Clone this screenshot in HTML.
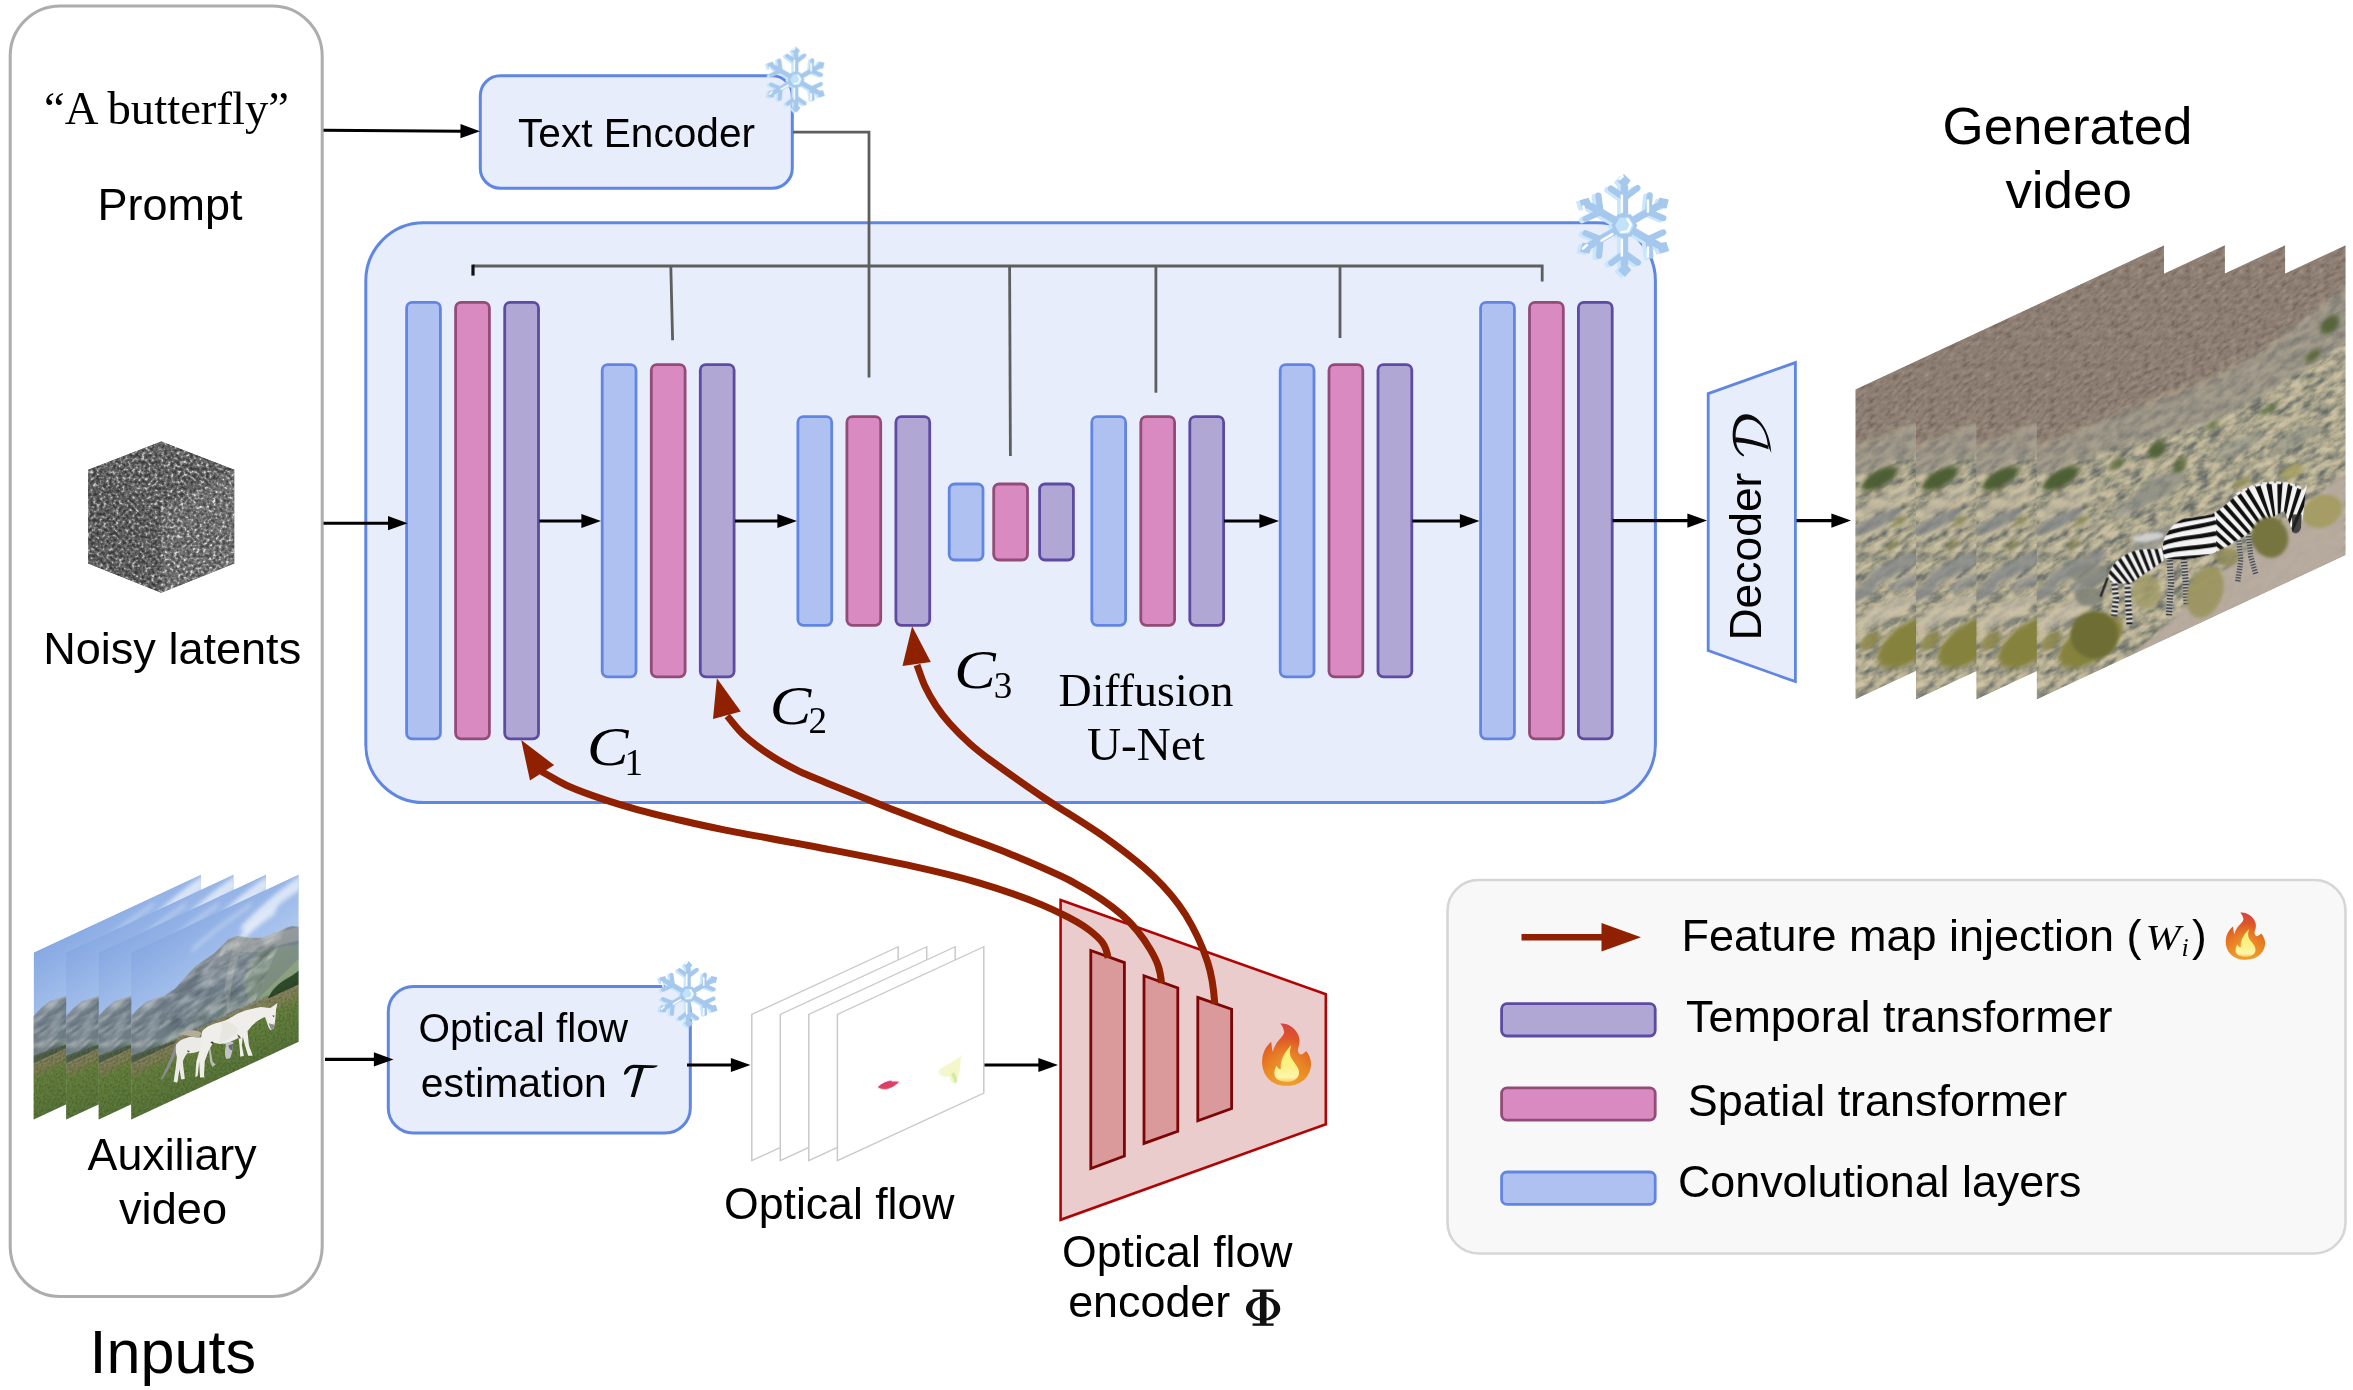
<!DOCTYPE html>
<html><head><meta charset="utf-8"><title>Diagram</title>
<style>html,body{margin:0;padding:0;background:#fff;}svg{display:block}text{fill:#000}</style>
</head><body>
<svg width="2353" height="1390" viewBox="0 0 2353 1390">
<defs>
<g id="sfarm"><path d="M0,-9 V-40" stroke="currentColor" stroke-width="7.4" fill="none"/><path d="M0,-27.5 L-13.5,-37 M0,-27.5 L13,-37.5" stroke="currentColor" stroke-width="6.2" stroke-linecap="round" fill="none"/><polygon points="-0.5,-51.5 6.2,-45 0,-36 -6.8,-44.5" fill="currentColor"/></g>
<g id="flake6">
<use href="#sfarm" transform="rotate(0)"/>
<use href="#sfarm" transform="rotate(60)"/>
<use href="#sfarm" transform="rotate(120)"/>
<use href="#sfarm" transform="rotate(180)"/>
<use href="#sfarm" transform="rotate(240)"/>
<use href="#sfarm" transform="rotate(300)"/>
<polygon points="13.00,0.00 6.50,11.26 -6.50,11.26 -13.00,0.00 -6.50,-11.26 6.50,-11.26" fill="currentColor"/>
</g>
<g id="snow">
<use href="#flake6" color="#c8e6fd" transform="translate(-3.6,1.4)"/>
<use href="#flake6" color="#a6c8ec"/>
<polygon points="9.40,0.00 4.70,8.14 -4.70,8.14 -9.40,0.00 -4.70,-8.14 4.70,-8.14" fill="#c0e2fb"/>
<path d="M3,-6.5 L6.5,-1 L3.5,5.5 L-3,6.5" stroke="#fff" stroke-width="2.4" fill="none" stroke-linecap="round" stroke-linejoin="round" opacity=".95"/>
<g stroke="#fff" stroke-width="2.6" stroke-linecap="round" fill="none" opacity=".95"><path d="M-2.6,-13.5 V-30"/><path d="M-2.6,14 V30"/><path d="M-12,8.5 L-23,15"/><path d="M-4.6,-46.5 L-1.8,-49.2"/><path d="M-41,-19 L-39,-12"/><path d="M-41.5,23 L-37.5,19.5"/><path d="M23.5,-25 V-14"/><path d="M23.5,22 V31"/></g>
</g>
<linearGradient id="fg1" x1="0" y1="0" x2="0" y2="1"><stop offset="0" stop-color="#d7443f"/><stop offset=".3" stop-color="#de5a25"/><stop offset=".65" stop-color="#e5761f"/><stop offset="1" stop-color="#ee9a28"/></linearGradient>
<linearGradient id="fg2" x1="0" y1="0" x2="0" y2="1"><stop offset="0" stop-color="#fbee70"/><stop offset=".6" stop-color="#fcf188"/><stop offset=".88" stop-color="#fdf5ae"/><stop offset="1" stop-color="#f9c85a"/></linearGradient>
<radialGradient id="fg3" cx=".5" cy=".72" r=".5"><stop offset="0" stop-color="#f2a535" stop-opacity=".75"/><stop offset="1" stop-color="#f2a535" stop-opacity="0"/></radialGradient>
<g id="fire">
<path id="fireo" d="M18.1,0.6 C24,-0.5 33.5,4 36.6,13 C39.2,20.5 35,25 35.9,28.3 C36.6,31 38,32 39.5,31.4 C41.5,30.7 42.6,29.3 44,28 C47.2,31.8 49,36.3 48.9,41 C48.9,51 41.5,62.8 24.3,62.8 C8,62.8 0,51 0,38.9 C0,30 4,23 9.1,18.8 C9.6,22.2 9.8,26 10.7,29.1 C12,24 14,20.5 16.5,17.5 C20,13.3 22.6,11 21.9,8.2 C21.3,5 20,2.5 18.1,0.6 Z" fill="url(#fg1)"/>
<path d="M18.1,0.6 C24,-0.5 33.5,4 36.6,13 C39.2,20.5 35,25 35.9,28.3 C36.6,31 38,32 39.5,31.4 C41.5,30.7 42.6,29.3 44,28 C47.2,31.8 49,36.3 48.9,41 C48.9,51 41.5,62.8 24.3,62.8 C8,62.8 0,51 0,38.9 C0,30 4,23 9.1,18.8 C9.6,22.2 9.8,26 10.7,29.1 C12,24 14,20.5 16.5,17.5 C20,13.3 22.6,11 21.9,8.2 C21.3,5 20,2.5 18.1,0.6 Z" fill="url(#fg3)"/>
<path d="M29.1,22.3 C28,26 27.4,29.5 28.2,32.4 C29.6,38 36.1,42 36.9,48.5 C37.6,55 32,59 24.9,58.9 C17,58.9 12,55.5 12.3,50 C12.3,47 13.3,44.5 14.6,42.7 C15.5,45 17,46.5 18.8,46.3 C18.5,43.5 18.5,41.5 19.1,38.9 C20.5,33 24.5,27 29.1,22.3 Z" fill="url(#fg2)"/>
</g>
<filter id="noiseF" x="0" y="0" width="100%" height="100%" color-interpolation-filters="sRGB">
<feTurbulence type="fractalNoise" baseFrequency="0.31" numOctaves="2" seed="7" result="n"/>
<feColorMatrix in="n" type="matrix" values="2.0 0 0 0 -0.55  2.0 0 0 0 -0.55  2.0 0 0 0 -0.55  0 0 0 0 1" result="g"/>
<feComponentTransfer in="g"><feFuncR type="table" tableValues="0.25 0.31 0.37 0.43 0.52 0.68 0.88"/><feFuncG type="table" tableValues="0.25 0.31 0.37 0.43 0.52 0.68 0.88"/><feFuncB type="table" tableValues="0.25 0.31 0.37 0.43 0.52 0.68 0.88"/></feComponentTransfer>
</filter>
<clipPath id="cubeClip"><polygon points="161.2,441.6 234.2,469.8 234.2,563.6 161.2,592.8 88.2,563.6 88.2,469.8"/></clipPath>
<linearGradient id="hsky" x1="0" y1="0" x2="0.25" y2="1"><stop offset="0" stop-color="#86a8e2"/><stop offset=".4" stop-color="#a3bfeb"/><stop offset=".75" stop-color="#c9dbf3"/><stop offset="1" stop-color="#d6e4f5"/></linearGradient>
<linearGradient id="hmtn" x1="0" y1="0" x2="0" y2="1"><stop offset="0" stop-color="#8b9298"/><stop offset=".5" stop-color="#72808b"/><stop offset="1" stop-color="#6b7c79"/></linearGradient>
<linearGradient id="hgrass" x1="0" y1="0" x2="0" y2="1"><stop offset="0" stop-color="#8a8467"/><stop offset=".2" stop-color="#7c8251"/><stop offset=".34" stop-color="#66803f"/><stop offset="1" stop-color="#58753a"/></linearGradient>
<filter id="hblur" x="-5%" y="-5%" width="110%" height="110%"><feGaussianBlur stdDeviation="0.7"/></filter>
<filter id="hblur2" x="-10%" y="-10%" width="120%" height="120%"><feGaussianBlur stdDeviation="2.5"/></filter>
<filter id="grassF" x="0" y="0" width="100%" height="100%" color-interpolation-filters="sRGB">
<feTurbulence type="fractalNoise" baseFrequency="0.5" numOctaves="2" seed="3" result="n"/>
<feColorMatrix in="n" type="matrix" values="0 0 0 0 0.1  0 0 0 0 0.15  0 0 0 0 0.0  1.6 0 0 0 -0.65"/>
</filter>
<filter id="hmtnF" x="0" y="0" width="100%" height="100%" color-interpolation-filters="sRGB">
<feTurbulence type="fractalNoise" baseFrequency="0.05 0.11" numOctaves="4" seed="21" result="n"/>
<feColorMatrix in="n" type="matrix" values="0 0 0 0 1  0 0 0 0 1  0 0 0 0 1  2.4 0 0 0 -0.95" result="l"/>
<feColorMatrix in="n" type="matrix" values="0 0 0 0 0.16  0 0 0 0 0.2  0 0 0 0 0.25  0 -2.4 0 0 1.35" result="d"/>
<feMerge><feMergeNode in="d"/><feMergeNode in="l"/></feMerge>
</filter>
<clipPath id="hmclip"><path d="M-1,64 L8,59 L15.2,56.6 L24,57.5 L32.6,58.9 L44.3,56.5 L54,50 L63.7,44.2 L72,42 L83.2,39.6 L90,36 L96.8,32.4 L106.5,33 L112,37 L118.1,40.4 L125,44 L131.7,46.7 L140,47 L147.3,48.1 L155,47.5 L160.9,48.6 L168,52.7 L168,108 L-1,108 Z"/></clipPath>
<clipPath id="hclip"><rect width="167.4" height="167.2"/></clipPath>
<g id="horseFrame" clip-path="url(#hclip)">
<rect width="168" height="168" fill="url(#hsky)"/>
<g filter="url(#hblur2)">
<path d="M108,26 C124,16 148,6 170,2 L170,16 C150,19 130,27 116,34 Z" fill="#eef3fb" opacity=".75"/>
<path d="M100,40 C112,30 128,24 146,21 L144,29 C130,31 114,38 106,44 Z" fill="#eef3fb" opacity=".7"/>
<path d="M60,24 C80,16 100,10 120,6 L120,10 C100,14 80,20 62,28 Z" fill="#dfe9f8" opacity=".5"/>
</g>
<g filter="url(#hblur)">
<path d="M-1,64 L8,59 L15.2,56.6 L24,57.5 L32.6,58.9 L44.3,56.5 L54,50 L63.7,44.2 L72,42 L83.2,39.6 L90,36 L96.8,32.4 L106.5,33 L112,37 L118.1,40.4 L125,44 L131.7,46.7 L140,47 L147.3,48.1 L155,47.5 L160.9,48.6 L168,52.7 L168,112 L-1,112 Z" fill="url(#hmtn)"/>
<path d="M96.8,32.4 L106.5,33 L118,40.4 L131.7,46.7 L147,48 L168,52.7 L168,66 L150,62 L130,60 L112,52 L100,44 L88,46 L90,37 Z" fill="#a3a6a4" opacity=".6"/>
<path d="M106.5,36 L110,48 L104,62 L100,82 L97,104 L93,82 L97,60 L101,46 Z" fill="#a5aaa8" opacity=".5"/>
<path d="M130,58 L150,64 L168,70 L168,100 L140,106 L118,104 L112,84 L118,66 Z" fill="#87997f" opacity=".6"/>
<path d="M44,57 L62,50 L78,62 L70,92 L40,104 L20,96 L22,70 Z" fill="#6c7a86" opacity=".5"/>
<path d="M0,66 L22,60 L30,80 L20,104 L0,106 Z" fill="#74808a" opacity=".5"/>
<path d="M118,110 L168,84 L168,112 L110,112Z" fill="#8fa87f" opacity=".75"/>
<g clip-path="url(#hmclip)"><rect x="-10" y="20" width="190" height="100" filter="url(#hmtnF)" opacity=".38" transform="skewX(-28)"/></g>
<rect x="-1" y="107.5" width="170" height="62" fill="url(#hgrass)"/>
<path d="M-1,103 L14,105 L30,107 L44,108.5 L44,111 L-1,111Z" fill="#4f5f4a"/>
<path d="M137,109 C141,102 148,99 156,98.4 C161,98 165,97 168,96 L168,110 L137,110 Z" fill="#2f4a2a"/>
<path d="M0,114 L110,111.5 M0,118.5 L96,115.5 M0,123 L70,120" stroke="#746c58" stroke-width="1.5" opacity=".55" fill="none"/>
</g>
<rect x="-5" y="106" width="178" height="68" filter="url(#grassF)" opacity=".5"/>
</g>
<clipPath id="hfront"><polygon points="131.2,952.4 298.6,874.5 298.6,1041.7 131.2,1119.6"/></clipPath>
<linearGradient id="zbg" x1="0" y1="0" x2="0" y2="1">
<stop offset="0" stop-color="#8b7c71"/><stop offset=".2" stop-color="#8d7e72"/><stop offset=".27" stop-color="#9b9184"/>
<stop offset=".38" stop-color="#a5a08f"/><stop offset=".6" stop-color="#aaa592"/><stop offset=".85" stop-color="#a9a38b"/><stop offset="1" stop-color="#b3aa98"/></linearGradient>
<linearGradient id="zfadeM" gradientUnits="userSpaceOnUse" x1="0" y1="0" x2="0" y2="300"><stop offset="0" stop-color="#fff"/><stop offset=".19" stop-color="#fff"/><stop offset=".26" stop-color="#000"/><stop offset="1" stop-color="#000"/></linearGradient>
<linearGradient id="zfadeS" gradientUnits="userSpaceOnUse" x1="0" y1="0" x2="0" y2="300"><stop offset="0" stop-color="#000"/><stop offset=".19" stop-color="#000"/><stop offset=".28" stop-color="#fff"/><stop offset="1" stop-color="#fff"/></linearGradient>
<mask id="zmaskM" maskUnits="userSpaceOnUse" x="-30" y="-30" width="380" height="380"><g style="filter:blur(5px)"><path d="M-40,-40 L360,-40 L360,40 L309,47 L270,58 L235,69 L200,74 L166,75 L120,71 L80,67 L40,64 L0,62 L-40,60 Z" fill="#fff"/></g></mask>
<mask id="zmaskS" maskUnits="userSpaceOnUse" x="-30" y="-30" width="380" height="380"><rect x="-30" y="-30" width="380" height="380" fill="#fff"/><g style="filter:blur(6px)"><path d="M-40,-40 L360,-40 L360,36 L309,43 L270,54 L235,65 L200,70 L166,71 L120,67 L80,63 L40,60 L0,58 L-40,56 Z" fill="#000"/></g></mask>
<filter id="zmtnF" x="0" y="0" width="100%" height="100%" color-interpolation-filters="sRGB">
<feTurbulence type="fractalNoise" baseFrequency="0.16 0.24" numOctaves="4" seed="11" result="n"/>
<feColorMatrix in="n" type="matrix" values="1.5 0 0 0 -0.25  1.5 0 0 0 -0.25  1.5 0 0 0 -0.25  0 0 0 0 1" result="g"/>
<feComponentTransfer in="g"><feFuncR type="table" tableValues="0.45 0.50 0.54 0.565 0.59 0.63"/><feFuncG type="table" tableValues="0.39 0.44 0.48 0.505 0.53 0.57"/><feFuncB type="table" tableValues="0.35 0.40 0.44 0.46 0.48 0.52"/></feComponentTransfer>
</filter>
<filter id="zscrF" x="0" y="0" width="100%" height="100%" color-interpolation-filters="sRGB">
<feTurbulence type="fractalNoise" baseFrequency="0.075 0.13" numOctaves="4" seed="5" result="n"/>
<feColorMatrix in="n" type="matrix" values="1.7 0 0 0 -0.33  1.7 0 0 0 -0.33  1.7 0 0 0 -0.33  0 0 0 0 1" result="g"/>
<feComponentTransfer in="g"><feFuncR type="table" tableValues="0.42 0.49 0.56 0.65 0.72 0.77 0.80"/><feFuncG type="table" tableValues="0.43 0.50 0.56 0.63 0.69 0.73 0.76"/><feFuncB type="table" tableValues="0.41 0.46 0.50 0.54 0.58 0.62 0.65"/></feComponentTransfer>
</filter>
<filter id="zblur" x="-10%" y="-10%" width="120%" height="120%"><feGaussianBlur stdDeviation="2.2"/></filter>
<filter id="zblur1" x="-10%" y="-10%" width="120%" height="120%"><feGaussianBlur stdDeviation="4"/></filter>
<clipPath id="zclip"><rect width="308.4" height="309.3"/></clipPath>
<g id="zebraFrame" clip-path="url(#zclip)">
<rect width="309" height="310" fill="url(#zbg)"/>
<rect x="-30" y="-30" width="370" height="370" filter="url(#zmtnF)" mask="url(#zmaskM)"/>
<rect x="-30" y="-30" width="370" height="370" filter="url(#zscrF)" mask="url(#zmaskS)"/>
<g filter="url(#zblur)">
<!-- sand path bottom-right -->
<path d="M96,312 L150,286 L200,262 L260,246 L309,226 L309,312 Z" fill="#b7ab9f" opacity=".95"/>
<!-- trees / bushes -->
<path d="M-10,60 L40,62 L80,65 L120,69 L166,73 L200,72 L235,67 L270,56 L315,44 L315,96 L270,104 L235,110 L200,114 L166,112 L120,104 L80,96 L40,90 L-10,86 Z" fill="#8f8981" opacity=".62"/>
<ellipse cx="20" cy="142" rx="26" ry="7" fill="#858888" opacity=".8"/>
<ellipse cx="40" cy="196" rx="30" ry="8" fill="#85888a" opacity=".8"/>
<ellipse cx="8" cy="206" rx="14" ry="7" fill="#85888a" opacity=".8"/>
<ellipse cx="50" cy="216" rx="16" ry="6" fill="#8d8f90" opacity=".7"/>
<ellipse cx="44" cy="152" rx="7" ry="4" fill="#8c8a52" opacity=".8"/>
<ellipse cx="36" cy="172" rx="6" ry="4" fill="#8c8a52" opacity=".8"/>
<ellipse cx="100" cy="160" rx="24" ry="8" fill="#8b8e88" opacity=".6"/>
<ellipse cx="120" cy="205" rx="28" ry="9" fill="#888b88" opacity=".6"/>
<ellipse cx="200" cy="150" rx="26" ry="8" fill="#8e9186" opacity=".55"/>
<ellipse cx="260" cy="170" rx="24" ry="9" fill="#8e9186" opacity=".55"/>
<ellipse cx="30" cy="125" rx="30" ry="8" fill="#c4baa4" opacity=".6"/>
<ellipse cx="30" cy="236" rx="30" ry="9" fill="#cbc1aa" opacity=".7"/>
<ellipse cx="24" cy="100" rx="18" ry="9" fill="#4e5e35"/>
<path d="M22,104 L24,116" stroke="#4a4a3a" stroke-width="2.5"/>
<ellipse cx="120" cy="116" rx="9" ry="9" fill="#4b5c33" opacity=".9"/>
<ellipse cx="80" cy="112" rx="8" ry="5" fill="#5a6a3c" opacity=".8"/>
<ellipse cx="143" cy="143" rx="7" ry="8" fill="#56663a" opacity=".8"/>
<ellipse cx="293" cy="72" rx="10" ry="9" fill="#4f6232" opacity=".9"/>
<ellipse cx="276" cy="95" rx="8" ry="6" fill="#50622f" opacity=".8"/>
<ellipse cx="232" cy="128" rx="9" ry="4" fill="#65783f" opacity=".7"/>
<ellipse cx="176" cy="118" rx="7" ry="4" fill="#65783f" opacity=".7"/>
<ellipse cx="54" cy="278" rx="32" ry="21" fill="#85823e"/>
<ellipse cx="14" cy="258" rx="10" ry="8" fill="#8a8446" opacity=".8"/>
</g>
</g>
<clipPath id="zfront"><polygon points="2036.8,389.6 2345.2,245.6 2345.2,554.9 2036.8,698.9"/></clipPath>
<clipPath id="zbody"><path d="M985,350 C1050,300 1150,270 1250,272 C1320,275 1380,290 1405,320 L1435,285 L1425,335 C1420,400 1410,480 1400,540 C1395,580 1370,600 1345,585 C1330,540 1310,490 1290,450 C1230,480 1150,520 1095,565 C1060,600 1020,620 980,640 C920,690 800,745 680,752 C620,760 560,760 535,745 C515,700 520,640 545,600 C580,540 620,510 660,498 C720,490 780,480 830,470 C890,440 940,390 985,350 Z"/></clipPath>
<clipPath id="zbody2"><path d="M180,860 C190,800 230,760 280,730 C330,695 400,685 480,690 L525,680 L530,760 C480,800 400,850 330,900 C290,915 230,910 195,900 Z"/></clipPath>
</defs>
<rect width="2353" height="1390" fill="#fff"/>
<rect x="10.2" y="6" width="312" height="1290.5" rx="50" fill="#fff" stroke="#adadad" stroke-width="3"/>
<rect x="1447.5" y="880" width="898" height="373.5" rx="31" fill="#f8f8f8" stroke="#d6d6d6" stroke-width="2.6"/>
<rect x="365.8" y="222.8" width="1289.6" height="579.8" rx="58" fill="#e8edfb" stroke="#5f86e2" stroke-width="3"/>
<rect x="480.3" y="75.8" width="312" height="112.4" rx="20" fill="#e8edfb" stroke="#5f86e2" stroke-width="3"/>
<rect x="388.3" y="986.6" width="302" height="146.4" rx="25" fill="#e8edfb" stroke="#5f86e2" stroke-width="3"/>
<polygon points="1708.2,393.6 1795.4,362.6 1795.4,681.6 1708.2,650.6" fill="#e8edfb" stroke="#5f86e2" stroke-width="2.8" stroke-linejoin="miter"/>
<path d="M473,266 H1542.2 V281.5" stroke="#5e5e5e" stroke-width="2.8" fill="none"/>
<path d="M473,264.6 V275.6" stroke="#111" stroke-width="3.2" fill="none"/>
<path d="M793,132.2 H869 V377.5" stroke="#5e5e5e" stroke-width="2.8" fill="none"/>
<path d="M670.8,266 L672.6,340.2" stroke="#5e5e5e" stroke-width="2.8" fill="none"/>
<path d="M1009.6,266 L1010.4,456" stroke="#5e5e5e" stroke-width="2.8" fill="none"/>
<path d="M1155.9,266 V392.7" stroke="#5e5e5e" stroke-width="2.8" fill="none"/>
<path d="M1340,266 V338" stroke="#5e5e5e" stroke-width="2.8" fill="none"/>
<rect x="406.6" y="302.4" width="33.8" height="436.4" rx="5.5" fill="#afc1f1" stroke="#6285e3" stroke-width="2.8"/>
<rect x="455.6" y="302.4" width="33.8" height="436.4" rx="5.5" fill="#d98ac0" stroke="#934b78" stroke-width="2.8"/>
<rect x="504.7" y="302.4" width="33.8" height="436.4" rx="5.5" fill="#b0a7d5" stroke="#5d4aa3" stroke-width="2.8"/>
<rect x="602.2" y="364.6" width="33.8" height="312.2" rx="5.5" fill="#afc1f1" stroke="#6285e3" stroke-width="2.8"/>
<rect x="651.3" y="364.6" width="33.8" height="312.2" rx="5.5" fill="#d98ac0" stroke="#934b78" stroke-width="2.8"/>
<rect x="700.3" y="364.6" width="33.8" height="312.2" rx="5.5" fill="#b0a7d5" stroke="#5d4aa3" stroke-width="2.8"/>
<rect x="797.9" y="416.7" width="33.8" height="208.6" rx="5.5" fill="#afc1f1" stroke="#6285e3" stroke-width="2.8"/>
<rect x="846.9" y="416.7" width="33.8" height="208.6" rx="5.5" fill="#d98ac0" stroke="#934b78" stroke-width="2.8"/>
<rect x="895.9" y="416.7" width="33.8" height="208.6" rx="5.5" fill="#b0a7d5" stroke="#5d4aa3" stroke-width="2.8"/>
<rect x="949.2" y="484.0" width="33.8" height="76.0" rx="5.5" fill="#afc1f1" stroke="#6285e3" stroke-width="2.8"/>
<rect x="993.7" y="484.0" width="33.8" height="76.0" rx="5.5" fill="#d98ac0" stroke="#934b78" stroke-width="2.8"/>
<rect x="1039.6" y="484.0" width="33.8" height="76.0" rx="5.5" fill="#b0a7d5" stroke="#5d4aa3" stroke-width="2.8"/>
<rect x="1091.8" y="416.7" width="33.8" height="208.6" rx="5.5" fill="#afc1f1" stroke="#6285e3" stroke-width="2.8"/>
<rect x="1140.8" y="416.7" width="33.8" height="208.6" rx="5.5" fill="#d98ac0" stroke="#934b78" stroke-width="2.8"/>
<rect x="1189.8" y="416.7" width="33.8" height="208.6" rx="5.5" fill="#b0a7d5" stroke="#5d4aa3" stroke-width="2.8"/>
<rect x="1280.2" y="364.6" width="33.8" height="312.2" rx="5.5" fill="#afc1f1" stroke="#6285e3" stroke-width="2.8"/>
<rect x="1329.0" y="364.6" width="33.8" height="312.2" rx="5.5" fill="#d98ac0" stroke="#934b78" stroke-width="2.8"/>
<rect x="1378.0" y="364.6" width="33.8" height="312.2" rx="5.5" fill="#b0a7d5" stroke="#5d4aa3" stroke-width="2.8"/>
<rect x="1480.6" y="302.4" width="33.8" height="436.4" rx="5.5" fill="#afc1f1" stroke="#6285e3" stroke-width="2.8"/>
<rect x="1529.5" y="302.4" width="33.8" height="436.4" rx="5.5" fill="#d98ac0" stroke="#934b78" stroke-width="2.8"/>
<rect x="1578.4" y="302.4" width="33.8" height="436.4" rx="5.5" fill="#b0a7d5" stroke="#5d4aa3" stroke-width="2.8"/>
<line x1="323.5" y1="523.2" x2="390.0" y2="523.2" stroke="#000" stroke-width="3.1"/><polygon points="407.6,523.2 388.0,530.3 388.0,516.1" fill="#000"/>
<line x1="539.4" y1="521.0" x2="583.4" y2="521.0" stroke="#000" stroke-width="3.1"/><polygon points="601.0,521.0 581.4,528.1 581.4,513.9" fill="#000"/>
<line x1="735.0" y1="521.0" x2="779.4" y2="521.0" stroke="#000" stroke-width="3.1"/><polygon points="797.0,521.0 777.4,528.1 777.4,513.9" fill="#000"/>
<line x1="1224.0" y1="521.0" x2="1261.4" y2="521.0" stroke="#000" stroke-width="3.1"/><polygon points="1279.0,521.0 1259.4,528.1 1259.4,513.9" fill="#000"/>
<line x1="1412.4" y1="521.0" x2="1461.9" y2="521.0" stroke="#000" stroke-width="3.1"/><polygon points="1479.5,521.0 1459.9,528.1 1459.9,513.9" fill="#000"/>
<line x1="1612.6" y1="520.6" x2="1689.4" y2="520.6" stroke="#000" stroke-width="3.1"/><polygon points="1707.0,520.6 1687.4,527.7 1687.4,513.5" fill="#000"/>
<line x1="1796.5" y1="520.6" x2="1833.4" y2="520.6" stroke="#000" stroke-width="3.1"/><polygon points="1851.0,520.6 1831.4,527.7 1831.4,513.5" fill="#000"/>
<line x1="323.5" y1="130.2" x2="462.4" y2="131.2" stroke="#000" stroke-width="3.1"/><polygon points="480.0,131.3 460.4,138.3 460.5,124.1" fill="#000"/>
<line x1="325.0" y1="1059.4" x2="375.9" y2="1059.4" stroke="#000" stroke-width="3.1"/><polygon points="393.5,1059.4 373.9,1066.5 373.9,1052.3" fill="#000"/>
<line x1="687.0" y1="1065.0" x2="732.9" y2="1065.0" stroke="#000" stroke-width="3.1"/><polygon points="750.5,1065.0 730.9,1072.1 730.9,1057.9" fill="#000"/>
<line x1="983.6" y1="1065.0" x2="1040.4" y2="1065.0" stroke="#000" stroke-width="3.1"/><polygon points="1058.0,1065.0 1038.4,1072.1 1038.4,1057.9" fill="#000"/>
<g clip-path="url(#cubeClip)"><rect x="86" y="440" width="150" height="155" fill="#6c6c6c"/><rect x="80" y="434" width="162" height="167" filter="url(#noiseF)"/><polygon points="161.2,441.6 234.2,469.8 161.2,508 88.2,469.8" fill="#000" opacity=".06"/><polygon points="88.2,469.8 161.2,508 161.2,592.8 88.2,563.6" fill="#000" opacity=".10"/><polygon points="234.2,469.8 161.2,508 161.2,592.8 234.2,563.6" fill="#fff" opacity=".05"/></g>
<use href="#horseFrame" transform="translate(33.6,952.4) skewY(-24.95)"/>
<use href="#horseFrame" transform="translate(66.1,952.4) skewY(-24.95)"/>
<use href="#horseFrame" transform="translate(98.6,952.4) skewY(-24.95)"/>
<use href="#horseFrame" transform="translate(131.2,952.4) skewY(-24.95)"/>
<g clip-path="url(#hfront)"><g transform="translate(150,990) scale(0.07916)" filter="url(#hblur2)" style="filter:blur(0.5px)">
<path d="M320,690 C290,780 240,920 130,1135 L165,1120 C250,980 310,860 345,740 Z" fill="#8b8b8b"/>
<path d="M330,690 C360,640 430,605 520,590 L650,600 L650,760 C590,790 520,800 470,800 C445,830 425,870 415,905 L440,1125 L395,1130 L372,1000 L350,1150 L342,1172 L298,1155 L322,1000 L340,850 C325,800 322,740 330,690 Z" fill="#eceae6"/>
<path d="M470,760 C470,790 500,800 500,770 Z" fill="#555"/>
<path d="M755,690 L790,900 L830,945 L785,972 L758,900 L740,700 Z" fill="#b9b9b7"/>
<path d="M905,670 L960,690 C945,760 940,820 962,872 L1012,862 C1030,820 1045,760 1052,660 L1000,640 Z" fill="#c3c3c6"/>
<path d="M990,700 C1000,740 1010,760 1040,760 L1050,680 Z" fill="#6a6a70"/>
<path d="M655,545 C580,495 480,498 365,556 C450,562 520,592 610,606 Z" fill="#b4ac9b"/>
<path d="M660,520 C720,450 800,425 900,400 C980,380 1050,330 1100,300 C1180,262 1280,232 1400,215 L1520,228 L1612,165 L1592,250 C1590,330 1580,420 1562,490 L1520,506 C1500,480 1488,450 1475,400 L1452,342 C1380,370 1290,430 1232,520 L1250,700 L1292,812 L1296,832 L1240,832 L1200,700 L1172,592 L1160,700 L1186,832 L1140,842 L1130,700 L1120,602 C1040,650 960,672 880,682 L800,662 C770,710 750,750 740,770 L692,900 L682,1082 L692,1102 L632,1106 L622,905 L602,1082 L572,1102 L586,900 L625,765 C640,700 640,600 660,520 Z" fill="#efeeea"/>
<path d="M1500,420 C1510,460 1520,490 1540,500 L1562,488 L1570,440 Z" fill="#8f9096"/>
<path d="M1545,320 L1560,345 L1575,325 Z" fill="#444"/>
<path d="M760,660 C790,640 810,650 800,690 Z" fill="#444"/>
<path d="M1100,560 C1140,580 1150,600 1140,620 L1120,602 Z" fill="#555"/>
<path d="M900,400 C980,390 1050,420 1120,500 C1060,600 960,650 860,670 C900,600 920,500 900,400Z" fill="#d9d7d0" opacity=".35"/>
</g></g>
<g transform="translate(751.8,1014.4) skewY(-24.8)"><rect width="146.4" height="146.3" fill="#fff" stroke="#c9c9c9" stroke-width="1.5"/></g>
<g transform="translate(780.3,1014.4) skewY(-24.8)"><rect width="146.4" height="146.3" fill="#fff" stroke="#c9c9c9" stroke-width="1.5"/></g>
<g transform="translate(808.8,1014.4) skewY(-24.8)"><rect width="146.4" height="146.3" fill="#fff" stroke="#c9c9c9" stroke-width="1.5"/></g>
<g transform="translate(837.4,1014.4) skewY(-24.8)"><rect width="146.4" height="146.3" fill="#fff" stroke="#c9c9c9" stroke-width="1.5"/></g>
<g transform="translate(837.4,1014.4) skewY(-24.8)" filter="url(#hblur)"><path d="M41,92 C46,88 54,91 62,96 C54,100 46,98 41,92Z" fill="#e0415f"/><path d="M41,92 C44,90 50,90 54,92" stroke="#c8328a" stroke-width="1.6" fill="none"/><path d="M101,103 C106,100 116,102 124,98 C122,106 124,114 119,122 C116,124 113,120 112,114 C108,112 102,110 101,103Z" fill="#eef3b4" opacity=".7"/><path d="M115,112 C117,116 119,120 118,123" stroke="#bfe68c" stroke-width="3" fill="none" opacity=".7"/></g>
<use href="#zebraFrame" transform="translate(1855.6,389.6) skewY(-25.05)"/>
<use href="#zebraFrame" transform="translate(1916.0,389.6) skewY(-25.05)"/>
<use href="#zebraFrame" transform="translate(1976.4,389.6) skewY(-25.05)"/>
<use href="#zebraFrame" transform="translate(2036.8,389.6) skewY(-25.05)"/>
<g clip-path="url(#zfront)"><g transform="translate(2080,440) scale(0.15825)">
<g style="filter:blur(10px)">
<ellipse cx="1530" cy="450" rx="130" ry="100" fill="#a39b5e" opacity=".9" transform="rotate(-25 1530 450)"/>
<ellipse cx="1340" cy="200" rx="80" ry="40" fill="#a8a060" opacity=".8" transform="rotate(-25 1340 200)"/>
<ellipse cx="1020" cy="270" rx="60" ry="30" fill="#8f8c50" opacity=".7" transform="rotate(-25 1020 270)"/>
<ellipse cx="500" cy="300" rx="170" ry="70" fill="#8d8f84" opacity=".7" transform="rotate(-25 500 300)"/>
<ellipse cx="60" cy="850" rx="120" ry="70" fill="#85877e" opacity=".8"/>
<ellipse cx="60" cy="990" rx="90" ry="60" fill="#7c7e76" opacity=".8"/>
<ellipse cx="420" cy="960" rx="90" ry="110" fill="#a39d68" opacity=".8"/>
<ellipse cx="430" cy="615" rx="100" ry="28" fill="#d6d6d6" opacity=".9" transform="rotate(-8 430 615)"/>
</g>
<!-- small zebra -->
<g style="filter:blur(2.5px)">
<path d="M175,870 C160,910 145,950 130,990" stroke="#2a2a2a" stroke-width="16" fill="none"/>
<path d="M215,880 L228,1000 L215,1112 M300,900 L306,1050 L314,1168" stroke="#e4e4e4" stroke-width="40" fill="none"/>
<path d="M215,880 L228,1000 L215,1112 M300,900 L306,1050 L314,1168" stroke="#1c1c1c" stroke-width="40" stroke-dasharray="13 15" fill="none"/>
<path d="M180,860 C190,800 230,760 280,730 C330,695 400,685 480,690 L525,680 L530,760 C480,800 400,850 330,900 C290,915 230,910 195,900 Z" fill="#f1f1f1"/>
<g clip-path="url(#zbody2)"><path d="M175,900 C260,800 380,740 540,700" stroke="#141414" stroke-width="330" stroke-dasharray="21 24" fill="none"/></g>
</g>
<!-- big zebra -->
<g style="filter:blur(2.5px)">
<path d="M1000,600 L1016,760 L996,898 M1062,590 L1080,740 L1112,852" stroke="#bdbdbd" stroke-width="34" fill="none"/>
<path d="M1000,600 L1016,760 L996,898 M1062,590 L1080,740 L1112,852" stroke="#333" stroke-width="34" stroke-dasharray="8 10" fill="none"/>
<path d="M565,740 L575,900 L562,1108 M655,750 L668,900 L674,1042" stroke="#c9c9c9" stroke-width="40" fill="none"/>
<path d="M565,740 L575,900 L562,1108 M655,750 L668,900 L674,1042" stroke="#2a2a2a" stroke-width="40" stroke-dasharray="9 11" fill="none"/>
<path d="M985,350 C1050,300 1150,270 1250,272 C1320,275 1380,290 1405,320 L1435,285 L1425,335 C1420,400 1410,480 1400,540 C1395,580 1370,600 1345,585 C1330,540 1310,490 1290,450 C1230,480 1150,520 1095,565 C1060,600 1020,620 980,640 C920,690 800,745 680,752 C620,760 560,760 535,745 C515,700 520,640 545,600 C580,540 620,510 660,498 C720,490 780,480 830,470 C890,440 940,390 985,350 Z" fill="#f4f4f4"/>
<g clip-path="url(#zbody)">
<path d="M820,700 C900,600 1020,470 1150,400 C1240,360 1330,380 1420,420" stroke="#0f0f0f" stroke-width="520" stroke-dasharray="24 26" fill="none"/>
<path d="M480,760 L860,760 L860,440 L480,440Z" fill="#f4f4f4"/>
<path d="M500,560 C600,500 720,500 850,470 M500,610 C600,555 720,560 860,520 M500,665 C600,615 720,620 860,590 M500,720 C600,675 720,690 860,660 M520,770 C620,735 720,750 860,730" stroke="#0f0f0f" stroke-width="26" fill="none"/>
<path d="M1340,470 L1400,470 L1400,600 L1340,600Z" fill="#222" opacity=".85"/>
</g>
<path d="M990,345 C1060,298 1150,268 1250,270 C1320,272 1380,288 1410,318" stroke="#efefef" stroke-width="16" stroke-dasharray="30 14" fill="none"/>
</g>
<g style="filter:blur(9px)">
<ellipse cx="1200" cy="615" rx="115" ry="130" fill="#77753f" transform="rotate(-15 1200 615)"/>
<ellipse cx="790" cy="960" rx="110" ry="170" fill="#9b9560" opacity=".92" transform="rotate(20 790 960)"/>
<ellipse cx="930" cy="740" rx="70" ry="60" fill="#8d8a55" opacity=".8"/>
<ellipse cx="90" cy="1230" rx="150" ry="150" fill="#6e6d33"/>
</g>
</g></g>
<polygon points="1060.6,900 1325.8,994.2 1325.8,1124.3 1060.6,1219.8" fill="#ebcccd" stroke="#b00505" stroke-width="2.6"/>
<polygon points="1090.8,950.5 1124.4,962.6 1124.4,1156.0 1090.8,1168.5" fill="#da999b" stroke="#7d0505" stroke-width="2.8"/>
<polygon points="1144.0,975.8 1177.8,988.0 1177.8,1131.2 1144.0,1143.4" fill="#da999b" stroke="#7d0505" stroke-width="2.8"/>
<polygon points="1197.8,997.4 1231.6,1009.2 1231.6,1108.6 1197.8,1120.8" fill="#da999b" stroke="#7d0505" stroke-width="2.8"/>
<path d="M541.5,771.5 C550.7,776.5 558.8,781.9 569.1,786.5 C579.5,791.1 592.1,795.5 603.6,799.4 C615.1,803.3 626.6,806.6 638.1,809.8 C649.6,813.0 658.4,815.1 672.6,818.4 C686.8,821.7 698.7,824.8 723.1,829.6 C747.5,834.5 786.9,841.3 818.8,847.5 C850.7,853.7 887.8,860.8 914.4,866.6 C941.0,872.5 957.0,876.2 978.2,882.6 C999.5,889.0 1023.3,896.9 1041.9,904.9 C1060.5,912.9 1078.7,921.5 1089.7,930.4 C1100.7,939.2 1106.0,944.0 1108.0,958.0" fill="none" stroke="#8f2100" stroke-width="7"/>
<polygon points="521.2,740.0 554.2,765.1 530,780.4" fill="#8f2100"/>
<path d="M727.2,716.0 C733.0,722.6 737.2,729.1 744.7,735.8 C752.2,742.5 762.9,750.4 772.0,756.3 C781.1,762.2 790.2,766.9 799.3,771.3 C808.4,775.7 812.8,777.2 826.7,782.9 C840.6,788.6 862.6,797.6 882.5,805.5 C902.4,813.4 925.0,821.9 946.3,830.0 C967.5,838.1 988.8,845.1 1010.0,853.9 C1031.2,862.7 1055.2,872.5 1073.8,882.6 C1092.4,892.7 1108.8,903.4 1121.6,914.5 C1134.3,925.6 1143.6,938.1 1150.3,949.5 C1157.0,960.9 1160.2,968.3 1161.5,983.0" fill="none" stroke="#8f2100" stroke-width="7"/>
<polygon points="716.9,678.3 740.8,711.4 713,719.1" fill="#8f2100"/>
<path d="M917.0,665.0 C919.7,672.2 921.9,679.7 925.1,686.5 C928.3,693.3 931.9,699.5 936.0,705.7 C940.1,711.9 944.0,717.1 949.7,723.5 C955.4,729.9 963.4,737.9 970.2,744.0 C977.0,750.1 978.8,751.6 990.7,760.4 C1002.7,769.1 1022.7,783.6 1041.9,796.5 C1061.1,809.4 1087.1,824.6 1105.7,837.9 C1124.3,851.2 1140.2,863.4 1153.5,876.2 C1166.8,889.0 1176.4,900.1 1185.4,914.5 C1194.4,928.9 1202.8,947.4 1207.7,962.3 C1212.6,977.2 1213.8,989.3 1214.8,1004.0" fill="none" stroke="#8f2100" stroke-width="7"/>
<polygon points="912.1,626.2 930.8,661.9 902.5,666" fill="#8f2100"/>
<line x1="1521.5" y1="937.3" x2="1606" y2="937.3" stroke="#8f2100" stroke-width="6.5"/>
<polygon points="1641,937.3 1601.5,923 1601.5,951.6" fill="#8f2100"/>
<rect x="1501.6" y="1003.6" width="153.6" height="32.4" rx="5.5" fill="#b0a7d5" stroke="#5d4aa3" stroke-width="2.8"/>
<rect x="1501.6" y="1087.8000000000002" width="153.6" height="32.4" rx="5.5" fill="#d98ac0" stroke="#934b78" stroke-width="2.8"/>
<rect x="1501.6" y="1172.0" width="153.6" height="32.4" rx="5.5" fill="#afc1f1" stroke="#6285e3" stroke-width="2.8"/>
<text x="44" y="124.0" font-family="Liberation Serif, sans-serif" font-size="46.5" text-anchor="start" textLength="245" lengthAdjust="spacingAndGlyphs" >“A butterfly”</text>
<text x="97.6" y="220.0" font-family="Liberation Sans, sans-serif" font-size="44" text-anchor="start" textLength="145" lengthAdjust="spacingAndGlyphs" >Prompt</text>
<text x="43.2" y="663.9" font-family="Liberation Sans, sans-serif" font-size="44.3" text-anchor="start" textLength="258" lengthAdjust="spacingAndGlyphs" >Noisy latents</text>
<text x="87.6" y="1169.8" font-family="Liberation Sans, sans-serif" font-size="44" text-anchor="start" textLength="169" lengthAdjust="spacingAndGlyphs" >Auxiliary</text>
<text x="119" y="1223.5" font-family="Liberation Sans, sans-serif" font-size="44" text-anchor="start" textLength="108" lengthAdjust="spacingAndGlyphs" >video</text>
<text x="89.5" y="1373.2" font-family="Liberation Sans, sans-serif" font-size="61" text-anchor="start" textLength="166.5" lengthAdjust="spacingAndGlyphs" >Inputs</text>
<text x="518" y="146.5" font-family="Liberation Sans, sans-serif" font-size="40" text-anchor="start" textLength="237" lengthAdjust="spacingAndGlyphs" >Text Encoder</text>
<text x="1942.5" y="144.4" font-family="Liberation Sans, sans-serif" font-size="52.5" text-anchor="start" textLength="250" lengthAdjust="spacingAndGlyphs" >Generated</text>
<text x="2005.4" y="207.9" font-family="Liberation Sans, sans-serif" font-size="52.5" text-anchor="start" textLength="126.5" lengthAdjust="spacingAndGlyphs" >video</text>
<text x="418.5" y="1041.7" font-family="Liberation Sans, sans-serif" font-size="40" text-anchor="start" textLength="209.5" lengthAdjust="spacingAndGlyphs" >Optical flow</text>
<text x="420.8" y="1096.8" font-family="Liberation Sans, sans-serif" font-size="40" text-anchor="start" textLength="186" lengthAdjust="spacingAndGlyphs" >estimation</text>
<text x="724" y="1219.2" font-family="Liberation Sans, sans-serif" font-size="44" text-anchor="start" textLength="230.5" lengthAdjust="spacingAndGlyphs" >Optical flow</text>
<text x="1062" y="1267.2" font-family="Liberation Sans, sans-serif" font-size="44" text-anchor="start" textLength="230.5" lengthAdjust="spacingAndGlyphs" >Optical flow</text>
<text x="1068.2" y="1317.1" font-family="Liberation Sans, sans-serif" font-size="44" text-anchor="start" textLength="162" lengthAdjust="spacingAndGlyphs" >encoder</text>
<g fill="#111"><rect x="1252.6" y="1289.5" width="21" height="2.4"/><rect x="1252.6" y="1323.4" width="21" height="2.4"/><rect x="1259.9" y="1290" width="6.6" height="35"/><path fill-rule="evenodd" d="M1245.9,1308.8 a17.2,12 0 1,0 34.4,0 a17.2,12 0 1,0 -34.4,0 Z M1252.3,1308.8 a10.8,10.2 0 1,0 21.6,0 a10.8,10.2 0 1,0 -21.6,0 Z"/></g>
<text x="1058.5" y="706.3" font-family="Liberation Serif, sans-serif" font-size="47" text-anchor="start" textLength="175" lengthAdjust="spacingAndGlyphs" >Diffusion</text>
<text x="1087" y="760.2" font-family="Liberation Serif, sans-serif" font-size="47" text-anchor="start" textLength="118" lengthAdjust="spacingAndGlyphs" >U-Net</text>
<text x="587.1" y="765.2" font-family="Liberation Serif, serif" font-style="italic" font-size="55.5" textLength="41.5" lengthAdjust="spacingAndGlyphs">C</text>
<text x="624.5" y="774.7" font-family="Liberation Serif, serif" font-size="37">1</text>
<text x="769.8" y="723.6" font-family="Liberation Serif, serif" font-style="italic" font-size="55.5" textLength="41.5" lengthAdjust="spacingAndGlyphs">C</text>
<text x="808.5999999999999" y="733.1" font-family="Liberation Serif, serif" font-size="37">2</text>
<text x="954.3" y="688.1" font-family="Liberation Serif, serif" font-style="italic" font-size="55.5" textLength="41.5" lengthAdjust="spacingAndGlyphs">C</text>
<text x="993.6999999999999" y="697.6" font-family="Liberation Serif, serif" font-size="37">3</text>
<text x="1681.5" y="951.0" font-family="Liberation Sans, sans-serif" font-size="44" text-anchor="start" textLength="460" lengthAdjust="spacingAndGlyphs" >Feature map injection (</text>
<text x="2145.5" y="949.8" font-family="Liberation Serif, serif" font-style="italic" font-size="36.5" textLength="35" lengthAdjust="spacingAndGlyphs" fill="#222">W</text>
<text x="2181.5" y="956.3" font-family="Liberation Serif, serif" font-style="italic" font-size="26" fill="#222">i</text>
<text x="2192" y="951.0" font-family="Liberation Sans, sans-serif" font-size="44" text-anchor="start" >)</text>
<text x="1686" y="1031.9" font-family="Liberation Sans, sans-serif" font-size="44" text-anchor="start" textLength="426.5" lengthAdjust="spacingAndGlyphs" >Temporal transformer</text>
<text x="1687.8" y="1115.8" font-family="Liberation Sans, sans-serif" font-size="44" text-anchor="start" textLength="379.5" lengthAdjust="spacingAndGlyphs" >Spatial transformer</text>
<text x="1678" y="1196.6" font-family="Liberation Sans, sans-serif" font-size="44" text-anchor="start" textLength="403.5" lengthAdjust="spacingAndGlyphs" >Convolutional layers</text>
<g transform="translate(1761.2,640.6) rotate(-90)"><text x="0" y="0" font-family="Liberation Sans, sans-serif" font-size="44" text-anchor="start" textLength="168" lengthAdjust="spacingAndGlyphs" >Decoder</text></g>
<use href="#snow" transform="translate(1624.4,225.6) scale(1.0000)"/>
<use href="#snow" transform="translate(796,79.6) scale(0.6431)"/>
<use href="#snow" transform="translate(688.4,994.2) scale(0.6510)"/>
<use href="#fire" transform="translate(1262.1,1023)"/>
<use href="#fire" transform="translate(2225.7,912.2) scale(0.806,0.758)"/>
<path d="M657.9,1065.4 L634,1064.8 C629,1065 625,1068.4 623.9,1073.6 L624.5,1075 C626.6,1074.7 628.5,1072.6 629.3,1070.6 C630.5,1068.6 632.5,1068 636,1068 L638.5,1068 C636,1078 633.4,1088 630.7,1096.8 L634.8,1097.3 C637.6,1087 640.6,1077 643.8,1068 L652,1068 C655,1067.8 657,1066.8 657.9,1065.4 Z" fill="#0a0a0a"/>
<g transform="translate(1715,400) scale(0.05036)" fill="#0a0a0a"><path d="M1118,1052 C1105,720 930,286 610,283 C430,283 350,480 350,700 C350,900 420,1050 566,1120 L580,1090 C480,1030 430,930 422,840 L412,740 C405,600 440,400 640,387 C880,377 1030,640 1048,900 Z"/><path d="M405,742 C620,758 850,818 1052,905 L1064,980 C850,897 640,852 415,838 Z"/></g>
</svg>
</body></html>
